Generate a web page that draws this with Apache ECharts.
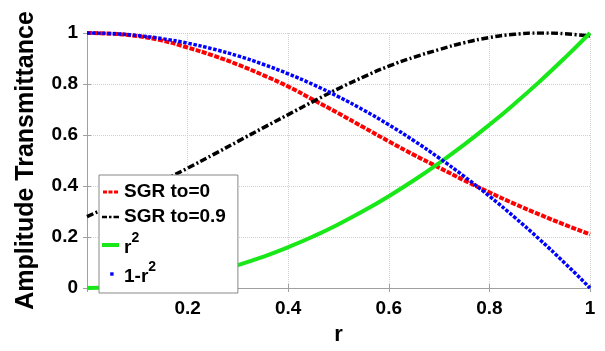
<!DOCTYPE html>
<html>
<head>
<meta charset="utf-8">
<script src="https://cdn.jsdelivr.net/npm/echarts@6/dist/echarts.min.js"></script>
<style>
html,body{margin:0;padding:0;background:#fff;}
#chart{width:605px;height:351px;}
</style>
</head>
<body>
<div id="chart"></div>
<script>
// r values (x axis)
var rValues = [0,0.05,0.1,0.15,0.2,0.25,0.3,0.35,0.4,0.45,0.5,0.55,0.6,0.65,0.7,0.75,0.8,0.85,0.9,0.95,1];
// SGR to=0 (red dotted)
var sgr0 = [1,0.997,0.988,0.97,0.943,0.912,0.876,0.835,0.79,0.738,0.685,0.63,0.575,0.522,0.472,0.422,0.375,0.33,0.288,0.248,0.21];
// SGR to=0.9 (black dash-dot)
var sgr09 = [0.28,0.325,0.372,0.42,0.47,0.522,0.575,0.628,0.68,0.732,0.782,0.828,0.87,0.905,0.935,0.962,0.982,0.995,1.0,0.997,0.988];
// r^2 (green)
var rSq = [0,0.0025,0.01,0.0225,0.04,0.0625,0.09,0.1225,0.16,0.2025,0.25,0.3025,0.36,0.4225,0.49,0.5625,0.64,0.7225,0.81,0.9025,1];
// 1-r^2 (blue dots)
var oneMinusRSq = [1,0.9975,0.99,0.9775,0.96,0.9375,0.91,0.8775,0.84,0.7975,0.75,0.6975,0.64,0.5775,0.51,0.4375,0.36,0.2775,0.19,0.0975,0];
// tick values
var xTicks = [0.2,0.4,0.6,0.8,1];
var yTicks = [0,0.2,0.4,0.6,0.8,1];
var seriesNames = ['SGR to=0','SGR to=0.9','r2','1-r2'];
var legendLabels = {'SGR to=0':'SGR to=0','SGR to=0.9':'SGR to=0.9','r2':'{b|r}{sup|2}','1-r2':'{b|1-r}{sup|2}'};

function pairs(ys){ return rValues.map(function(x,i){ return [x, ys[i]]; }); }

var FONT = '"Liberation Sans", Arial, sans-serif';
var chart = echarts.init(document.getElementById('chart'), null, {renderer:'canvas'});
var gridColor = '#d0d0d0';
var boxColor = '#a0a0a0';
var BOX = 'M0,0L0,0M17,0L17,0M17,10L17,10M0,10L0,10';

var option = {
  backgroundColor:'#fff',
  animation:false,
  grid:{left:87, right:15, top:33, bottom:49, containLabel:false},
  legend:{
    orient:'vertical',
    left:99, top:175,
    padding:[6,12,7,3],
    itemGap:3,
    itemWidth:17, itemHeight:10,
    backgroundColor:'#fff',
    borderColor:'#888', borderWidth:1,
    data:[
      {name:seriesNames[0], icon:'path://'+BOX+'M1,3.5h4v3h-4zM6.5,3.5h4v3h-4zM12,3.5h4v3h-4z', itemStyle:{color:'#ff0000', borderWidth:0}},
      {name:seriesNames[1], icon:'path://'+BOX+'M0,3.7h5v2.6h-5zM7,3.7h2.5v2.6h-2.5zM11.5,3.7h5.5v2.6h-5.5z', itemStyle:{color:'#000000', borderWidth:0}},
      {name:seriesNames[2], icon:'path://'+BOX+'M0,3h17v4h-17z', itemStyle:{color:'#18e818', borderWidth:0}},
      {name:seriesNames[3], icon:'path://'+BOX+'M8.2,3.3h3.4v3.4h-3.4z', itemStyle:{color:'#0000ff', borderWidth:0}}
    ],
    formatter:function(n){ return legendLabels[n]; },
    textStyle:{
      fontFamily:FONT, fontWeight:'bold', fontSize:19, color:'#000', lineHeight:22,
      rich:{
        b:{fontFamily:FONT, fontWeight:'bold', fontSize:19, color:'#000', lineHeight:24, verticalAlign:'bottom'},
        sup:{fontFamily:FONT, fontWeight:'bold', fontSize:14, color:'#000', verticalAlign:'bottom', lineHeight:14, padding:[0,0,12,0]}
      }
    }
  },
  xAxis:[{
    type:'value', min:0, max:1, interval:0.2, position:'bottom',
    name:'r', nameLocation:'middle', nameGap:36,
    nameTextStyle:{fontFamily:FONT, fontWeight:'bold', fontSize:22, color:'#000'},
    axisLine:{show:true, lineStyle:{color:boxColor, width:1}},
    axisTick:{show:true, inside:true, length:4, lineStyle:{color:boxColor}},
    axisLabel:{fontFamily:FONT, fontWeight:'bold', fontSize:19, color:'#000', margin:11,
      formatter:function(v){ var r=Math.round(v*10)/10; return xTicks.indexOf(r) >= 0 ? String(r) : ''; }},
    splitLine:{show:true, lineStyle:{color:gridColor, type:'dotted', width:1}}
  },{
    type:'value', min:0, max:1, interval:0.2, position:'top',
    axisLine:{show:true, lineStyle:{color:boxColor, width:1}},
    axisTick:{show:true, inside:true, length:4, lineStyle:{color:boxColor}},
    axisLabel:{show:false}, splitLine:{show:false}
  }],
  yAxis:[{
    type:'value', min:0, max:1, interval:0.2, position:'left',
    name:'Amplitude Transmittance', nameLocation:'middle', nameGap:48, nameRotate:90,
    nameTextStyle:{fontFamily:FONT, fontWeight:'bold', fontSize:25, color:'#000'},
    axisLine:{show:true, lineStyle:{color:boxColor, width:1}},
    axisTick:{show:true, inside:true, length:4, lineStyle:{color:boxColor}},
    axisLabel:{fontFamily:FONT, fontWeight:'bold', fontSize:19, color:'#000', margin:9,
      formatter:function(v){ var r=Math.round(v*10)/10; return yTicks.indexOf(r)>=0 ? String(r) : ''; }},
    splitLine:{show:true, lineStyle:{color:gridColor, type:'dotted', width:1}}
  },{
    type:'value', min:0, max:1, interval:0.2, position:'right',
    axisLine:{show:true, lineStyle:{color:boxColor, width:1}},
    axisTick:{show:true, inside:true, length:4, lineStyle:{color:boxColor}},
    axisLabel:{show:false}, splitLine:{show:false}
  }],
  series:[
    {name:seriesNames[0], type:'line', smooth:true, symbol:'none', data:pairs(sgr0),
      color:'#ff0000', lineStyle:{color:'#ff0000', width:4, type:[5,1.5], cap:'butt'}},
    {name:seriesNames[1], type:'line', smooth:true, symbol:'none', data:pairs(sgr09),
      color:'#000000', lineStyle:{color:'#000000', width:3.5, type:[7,2.5,2,2.5], cap:'butt'}},
    {name:seriesNames[2], type:'line', smooth:true, symbol:'none', data:pairs(rSq),
      color:'#18e818', lineStyle:{color:'#18e818', width:4, type:'solid'}},
    {name:seriesNames[3], type:'line', smooth:true, symbol:'none', data:pairs(oneMinusRSq),
      color:'#0000ff', lineStyle:{color:'#0000ff', width:3.5, type:[3.5,1.6], cap:'butt'}}
  ]
};
chart.setOption(option);
</script>
</body>
</html>
